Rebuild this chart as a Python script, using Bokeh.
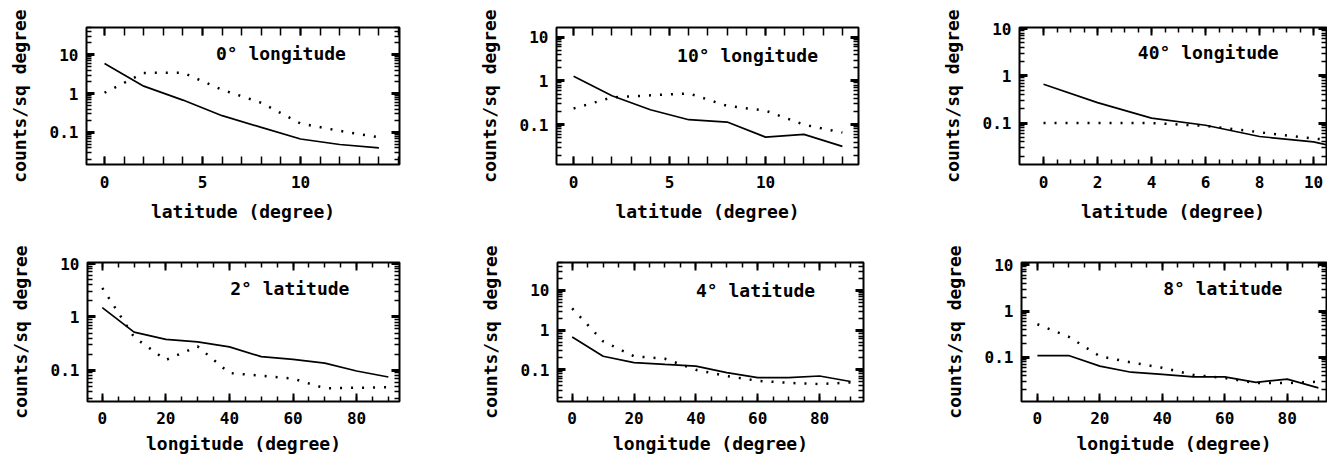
from bokeh.plotting import figure
from bokeh.layouts import column, row
from bokeh.models import Range1d, LinearAxis, LogAxis, FixedTicker, Label, CustomJSTickFormatter
from bokeh.embed import file_html
from bokeh.resources import INLINE

FONT = "DejaVu Sans Mono"

# ---------------- data ----------------
Y_TICKS = [0.1, 1, 10]
Y_TICK_LABELS = ["0.1", "1", "10"]

LAT_X = [0, 2, 4, 6, 8, 10, 12, 14]
LAT_TICKS_A = [0, 5, 10]
LAT_TICKS_B = [0, 2, 4, 6, 8, 10]
LON_X = [0, 10, 20, 30, 40, 50, 60, 70, 80, 90]
LON_TICKS = [0, 20, 40, 60, 80]

TITLES = ["0° longitude", "10° longitude", "40° longitude",
          "2° latitude", "4° latitude", "8° latitude"]

LON0_SOLID = [5.9, 1.55, 0.68, 0.27, 0.135, 0.068, 0.049, 0.040]
LON0_DOTTED = [1.05, 3.4, 3.45, 1.25, 0.58, 0.17, 0.11, 0.075]

LON10_SOLID = [1.29, 0.46, 0.22, 0.13, 0.115, 0.052, 0.060, 0.032]
LON10_DOTTED = [0.235, 0.42, 0.47, 0.52, 0.27, 0.21, 0.10, 0.066]

LAT_X40 = [0, 2, 4, 6, 8, 10, 12]
LON40_SOLID = [0.66, 0.27, 0.127, 0.090, 0.052, 0.040, 0.022]
LON40_DOTTED = [0.10, 0.10, 0.10, 0.087, 0.064, 0.047, 0.038]

LAT2_SOLID = [1.5, 0.52, 0.38, 0.34, 0.275, 0.18, 0.16, 0.136, 0.097, 0.075]
LAT2_DOTTED = [3.5, 0.42, 0.156, 0.28, 0.089, 0.079, 0.070, 0.046, 0.047, 0.048]

LAT4_SOLID = [0.67, 0.22, 0.152, 0.137, 0.124, 0.085, 0.064, 0.064, 0.070, 0.051]
LAT4_DOTTED = [3.5, 0.52, 0.22, 0.19, 0.10, 0.070, 0.053, 0.047, 0.044, 0.048]

LAT8_SOLID = [0.11, 0.11, 0.065, 0.048, 0.043, 0.038, 0.038, 0.029, 0.034, 0.022]
LAT8_DOTTED = [0.52, 0.28, 0.106, 0.078, 0.060, 0.042, 0.036, 0.028, 0.028, 0.030]

# ---------------- layout config ----------------
panels = [
    dict(x=LAT_X, solid=LON0_SOLID, dx=LAT_X, dotted=LON0_DOTTED, title=TITLES[0],
         xr=(-0.92, 15.05), yr=(0.015, 50), tpos=(9.0, 11.0),
         xlabel="latitude (degree)", major=LAT_TICKS_A,
         minor=list(range(0, 16)), w=448, h=238, bl=86, br=49, bt=27, bb=70, minor_len=8),
    dict(x=LAT_X, solid=LON10_SOLID, dx=LAT_X, dotted=LON10_DOTTED, title=TITLES[1],
         xr=(-0.89, 14.84), yr=(0.0123, 16.7), tpos=(9.06, 3.9),
         xlabel="latitude (degree)", major=LAT_TICKS_A,
         minor=list(range(0, 15)), w=445, h=238, bl=108, br=35, bt=25, bb=72, minor_len=8),
    dict(x=LAT_X40, solid=LON40_SOLID, dx=LAT_X40, dotted=LON40_DOTTED, title=TITLES[2],
         xr=(-0.89, 10.48), yr=(0.0133, 10.5), tpos=(6.1, 3.04),
         xlabel="latitude (degree)", major=LAT_TICKS_B,
         minor=[i * 0.5 for i in range(0, 22)], w=434, h=238, bl=126, br=1, bt=24, bb=74,
         minor_len=5),
    dict(x=LON_X, solid=LAT2_SOLID, dx=LON_X, dotted=LAT2_DOTTED, title=TITLES[3],
         xr=(-4.65, 93.5), yr=(0.026, 10.5), tpos=(59.0, 3.4),
         xlabel="longitude (degree)", major=LON_TICKS,
         minor=list(range(0, 95, 5)), w=448, h=222, bl=87, br=49, bt=24, bb=57, minor_len=5),
    dict(x=LON_X, solid=LAT4_SOLID, dx=LON_X, dotted=LAT4_DOTTED, title=TITLES[4],
         xr=(-4.75, 94.2), yr=(0.016, 50), tpos=(59.3, 10.0),
         xlabel="longitude (degree)", major=LON_TICKS,
         minor=list(range(0, 95, 5)), w=445, h=222, bl=109, br=30, bt=24, bb=58, minor_len=5),
    dict(x=LON_X, solid=LAT8_SOLID, dx=LON_X, dotted=LAT8_DOTTED, title=TITLES[5],
         xr=(-5.1, 92.6), yr=(0.0112, 11.2), tpos=(59.4, 3.1),
         xlabel="longitude (degree)", major=LON_TICKS,
         minor=list(range(0, 95, 5)), w=434, h=222, bl=128, br=1, bt=21, bb=59, minor_len=5),
]

Y_MINOR = [m * 10.0 ** k for k in range(-3, 2) for m in range(2, 10)]
Y_LABEL_MAP = {t: s for t, s in zip(Y_TICKS, Y_TICK_LABELS)}


def style_axis(ax, minor_len):
    ax.axis_line_color = None
    ax.major_tick_out = 0
    ax.minor_tick_out = 0
    ax.major_tick_in = 8
    ax.minor_tick_in = minor_len
    ax.major_tick_line_color = "black"
    ax.minor_tick_line_color = "black"
    ax.major_tick_line_width = 2
    ax.minor_tick_line_width = 1.5
    ax.major_label_text_font = FONT
    ax.major_label_text_font_style = "bold"
    ax.major_label_text_color = "black"
    ax.major_label_text_font_size = "16px"
    ax.axis_label_text_color = "black"


def hide_labels(ax):
    ax.formatter = CustomJSTickFormatter(code="return ''")
    ax.major_label_text_font_size = "1px"
    ax.major_label_standoff = 0


def make_panel(c, bottom_row):
    p = figure(width=c["w"], height=c["h"],
               x_range=Range1d(*c["xr"]), y_range=Range1d(*c["yr"]),
               y_axis_type="log", output_backend="svg", toolbar_location=None,
               min_border_left=c["bl"], min_border_right=c["br"],
               min_border_top=c["bt"], min_border_bottom=c["bb"])
    p.xgrid.visible = False
    p.ygrid.visible = False
    p.outline_line_color = "black"
    p.outline_line_width = 2
    p.background_fill_color = "white"
    p.border_fill_color = "white"

    xt = FixedTicker(ticks=c["major"], minor_ticks=c["minor"])
    yt = FixedTicker(ticks=Y_TICKS, minor_ticks=Y_MINOR)

    xa = p.xaxis[0]
    xa.ticker = xt
    style_axis(xa, c["minor_len"])
    xa.major_label_standoff = 10 if bottom_row else 11
    xa.axis_label = c["xlabel"]
    xa.axis_label_text_font = FONT
    xa.axis_label_text_font_size = "18px"
    xa.axis_label_text_font_style = "bold"
    xa.axis_label_standoff = 6 if bottom_row else 10

    ya = p.yaxis[0]
    ya.ticker = yt
    style_axis(ya, 5)
    ya.major_tick_line_width = 3
    ya.major_label_overrides = Y_LABEL_MAP
    ya.major_label_standoff = 8
    ya.axis_label = "counts/sq degree"
    ya.axis_label_text_font = FONT
    ya.axis_label_text_font_size = "18px"
    ya.axis_label_text_font_style = "bold"
    ya.axis_label_standoff = 17

    top = LinearAxis(ticker=xt)
    style_axis(top, c["minor_len"])
    hide_labels(top)
    p.add_layout(top, "above")
    right = LogAxis(ticker=yt)
    style_axis(right, 5)
    right.major_tick_line_width = 3
    hide_labels(right)
    p.add_layout(right, "right")

    p.line(c["x"], c["solid"], line_color="black", line_width=1.7)
    p.line(c["dx"], c["dotted"], line_color="black", line_width=2.5,
           line_dash="2 9", line_cap="butt")

    p.add_layout(Label(x=c["tpos"][0], y=c["tpos"][1], text=c["title"],
                       text_align="center", text_baseline="middle",
                       text_font=FONT, text_font_size="18px",
                       text_font_style="bold", text_color="black"))
    return p


figs = [make_panel(c, i >= 3) for i, c in enumerate(panels)]
layout = column(row(*figs[:3], spacing=0), row(*figs[3:], spacing=0), spacing=0)

open("out.html", "w").write(file_html(layout, INLINE))
